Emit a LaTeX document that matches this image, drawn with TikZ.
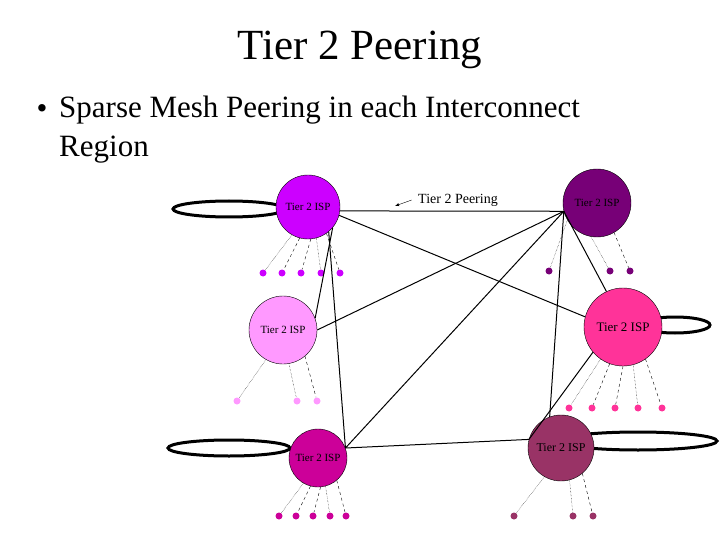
\documentclass[tikz,border=0pt]{standalone}
\usepackage{fontspec}
\setmainfont{Liberation Serif}
\definecolor{ispA}{HTML}{CC00FF}
\definecolor{ispB}{HTML}{FF99FF}
\definecolor{ispC}{HTML}{CC0099}
\definecolor{ispD}{HTML}{770077}
\definecolor{ispE}{HTML}{FF3399}
\definecolor{ispF}{HTML}{993366}
\tikzset{
  isp/.style={circle,draw=black,thin,inner sep=0pt,font=\fontsize{11}{11}\selectfont},
  leaf/.style={circle,inner sep=0pt,minimum size=7pt},
  peer/.style={black,line width=1pt},
  peerloop/.style={black,line width=3pt},
  dotlink/.style={black,densely dotted,thin},
  dashlink/.style={black,dashed,thin}
}
\begin{document}
\begin{tikzpicture}[x=1pt,y=-1pt]
	\useasboundingbox (0,0) rectangle (720,540);
	\node[font=\fontsize{43}{43}\selectfont] at (360,50) {Tier 2 Peering};
	\node[font=\fontsize{31}{31}\selectfont] at (42,112) {\textbullet};
	\node[anchor=north west,align=left,inner sep=0pt,font=\fontsize{31}{39}\selectfont] at (59,96) {Sparse Mesh Peering in each Interconnect\\Region};
	% peering loops
	\draw[peerloop] (229,209) ellipse (56 and 8);
	\draw[peerloop] (229,448) ellipse (61 and 8);
	\draw[peerloop] (675,325) ellipse (35 and 8);
	\draw[peerloop] (638,441) ellipse (79 and 9);
	% tier 2 isps
	\node[isp,fill=ispA,minimum size=64pt] (a) at (308,207) {Tier 2 ISP};
	\node[isp,fill=ispB,minimum size=68pt] (b) at (283,330) {Tier 2 ISP};
	\node[isp,fill=ispC,minimum size=58pt] (c) at (318,458) {Tier 2 ISP};
	\node[isp,fill=ispD,minimum size=68pt] (d) at (597,203) {Tier 2 ISP};
	\node[isp,fill=ispE,minimum size=78pt,font=\fontsize{13}{13}\selectfont] (e) at (623,327) {Tier 2 ISP};
	\node[isp,fill=ispF,minimum size=66pt,font=\fontsize{12}{12}\selectfont] (f) at (561,448) {Tier 2 ISP};
	% customers
	\foreach \x [count=\i] in {263,282,301,321,340}
		\node[leaf,fill=ispA] (a\i) at (\x,273) {};
	\foreach \x [count=\i] in {237,297,317}
		\node[leaf,fill=ispB] (b\i) at (\x,401) {};
	\foreach \x [count=\i] in {279,296,313,330,346}
		\node[leaf,fill=ispC] (c\i) at (\x,516) {};
	\foreach \x [count=\i] in {549,610,630}
		\node[leaf,fill=ispD] (d\i) at (\x,271) {};
	\foreach \x [count=\i] in {569,592,615,638,662}
		\node[leaf,fill=ispE] (e\i) at (\x,408) {};
	\foreach \x [count=\i] in {514,573,593}
		\node[leaf,fill=ispF] (f\i) at (\x,516) {};
	% access links
	\draw[dotlink] (a.-120) -- (a1); \draw[dashlink] (a.-105) -- (a2); \draw[dashlink] (a.-85) -- (a3);
	\draw[dotlink] (a.-75) -- (a4); \draw[dashlink] (a.-55) -- (a5);
	\draw[dotlink] (b.-120) -- (b1); \draw[dotlink] (b.-80) -- (b2); \draw[dashlink] (b.-50) -- (b3);
	\draw[dotlink] (c.-120) -- (c1); \draw[dashlink] (c.-105) -- (c2); \draw[dashlink] (c.-85) -- (c3);
	\draw[dotlink] (c.-75) -- (c4); \draw[dashlink] (c.-50) -- (c5);
	\draw[dotlink] (d.-150) -- (d1); \draw[dotlink] (d.-100) -- (d2); \draw[dashlink] (d.-60) -- (d3);
	\draw[dotlink] (e.-125) -- (e1); \draw[dashlink] (e.-110) -- (e2); \draw[dashlink] (e.-90) -- (e3);
	\draw[dotlink] (e.-75) -- (e4); \draw[dashlink] (e.-55) -- (e5);
	\draw[dotlink] (f.-120) -- (f1); \draw[dotlink] (f.-75) -- (f2); \draw[dashlink] (f.-50) -- (f3);
	% peering links
	\draw[peer] (a.-7) -- (d.194);
	\draw[peer] (a.-15) -- (e.165);
	\draw[peer] (a.-40) -- (b.20);
	\draw[peer] (a.-50) -- (c.20);
	\draw[peer] (b.east) -- (d.194);
	\draw[peer] (c.20) -- (d.194);
	\draw[peer] (c.20) -- (f.165);
	\draw[peer] (d.194) -- (e.115);
	\draw[peer] (d.194) -- (f.110);
	\draw[peer] (e.-140) -- (f.165);
	\node (lbl) at (458,200) {\fontsize{14}{14}\selectfont Tier 2 Peering};
	\coordinate (tip) at (395,206);
	\draw[thin,-latex] (lbl.west) ++(-3,0) -- (tip);
\end{tikzpicture}
\end{document}
